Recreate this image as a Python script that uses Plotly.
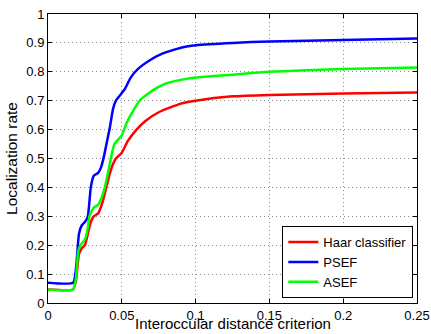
import plotly.graph_objects as go

x_haar = [0, 0.017, 0.019, 0.021, 0.023, 0.025, 0.027, 0.029, 0.031, 0.034, 0.037, 0.040, 0.042, 0.044, 0.046, 0.050, 0.054, 0.060, 0.066, 0.075, 0.090, 0.100, 0.125, 0.150, 0.200, 0.250]
y_haar = [0.047, 0.047, 0.08, 0.17, 0.19, 0.20, 0.24, 0.28, 0.30, 0.31, 0.35, 0.41, 0.45, 0.48, 0.50, 0.52, 0.56, 0.60, 0.63, 0.66, 0.69, 0.70, 0.715, 0.72, 0.725, 0.728]

x_psef = [0, 0.017, 0.019, 0.021, 0.023, 0.025, 0.027, 0.029, 0.031, 0.034, 0.036, 0.038, 0.040, 0.042, 0.044, 0.046, 0.049, 0.052, 0.056, 0.061, 0.069, 0.077, 0.085, 0.093, 0.100, 0.125, 0.150, 0.200, 0.250]
y_psef = [0.07, 0.07, 0.12, 0.24, 0.27, 0.28, 0.30, 0.40, 0.44, 0.45, 0.47, 0.51, 0.56, 0.61, 0.67, 0.70, 0.72, 0.74, 0.78, 0.81, 0.84, 0.862, 0.876, 0.887, 0.892, 0.90, 0.905, 0.91, 0.915]

x_asef = [0, 0.017, 0.019, 0.0205, 0.022, 0.025, 0.027, 0.028, 0.031, 0.034, 0.036, 0.0385, 0.041, 0.043, 0.045, 0.050, 0.053, 0.056, 0.062, 0.068, 0.074, 0.080, 0.090, 0.100, 0.125, 0.150, 0.200, 0.250]
y_asef = [0.047, 0.047, 0.09, 0.18, 0.20, 0.22, 0.26, 0.30, 0.33, 0.34, 0.36, 0.40, 0.46, 0.51, 0.55, 0.58, 0.62, 0.65, 0.70, 0.725, 0.745, 0.76, 0.772, 0.78, 0.79, 0.80, 0.81, 0.815]

series = [
    ("Haar classifier", x_haar, y_haar, "#ff0000"),
    ("PSEF", x_psef, y_psef, "#0000ff"),
    ("ASEF", x_asef, y_asef, "#00ff00"),
]

x_ticks = [0, 0.05, 0.1, 0.15, 0.2, 0.25]
x_ticklabels = ["0", "0.05", "0.1", "0.15", "0.2", "0.25"]
y_ticks = [0, 0.1, 0.2, 0.3, 0.4, 0.5, 0.6, 0.7, 0.8, 0.9, 1]
y_ticklabels = ["0", "0.1", "0.2", "0.3", "0.4", "0.5", "0.6", "0.7", "0.8", "0.9", "1"]
x_title = "Interoccular distance criterion"
y_title = "Localization rate"

fig = go.Figure()
for name, xs, ys, col in series:
    fig.add_trace(go.Scatter(x=xs, y=ys, mode="lines", name=name,
                             line=dict(color=col, width=2.5, shape="spline", smoothing=0.5)))

axis_common = dict(showline=True, linecolor="black", linewidth=1, mirror="ticks",
                   ticks="inside", ticklen=4, tickcolor="black", automargin=False,
                   ticklabeloverflow="allow",
                   showgrid=True, gridcolor="#8c8c8c", griddash="1px,3px", gridwidth=1,
                   zeroline=False, tickfont=dict(family="Liberation Sans", size=13, color="black"))

fig.update_xaxes(range=[0, 0.25], tickvals=x_ticks, ticktext=x_ticklabels, **axis_common)
fig.update_yaxes(range=[0, 1], tickvals=y_ticks, ticktext=y_ticklabels,
                 title=dict(text=y_title, standoff=4,
                            font=dict(family="Liberation Sans", size=15.5, color="black")),
                 **axis_common)

fig.add_annotation(text=x_title, xref="paper", yref="paper", x=0.5, y=0,
                   xanchor="center", yanchor="bottom", yshift=-31, showarrow=False,
                   font=dict(family="Liberation Sans", size=15, color="black"))

fig.update_layout(
    width=431, height=334,
    margin=dict(l=48, r=14, t=14, b=31),
    plot_bgcolor="white", paper_bgcolor="white",
    legend=dict(x=0.99, y=0.017, xanchor="right", yanchor="bottom",
                bordercolor="black", borderwidth=1, bgcolor="white",
                font=dict(family="Liberation Sans", size=13, color="black"),
                tracegroupgap=0, itemwidth=30),
)

fig.write_html("out.html", config={"displayModeBar": False},
               post_script="document.body.style.margin='0';document.body.style.overflow='hidden';")
